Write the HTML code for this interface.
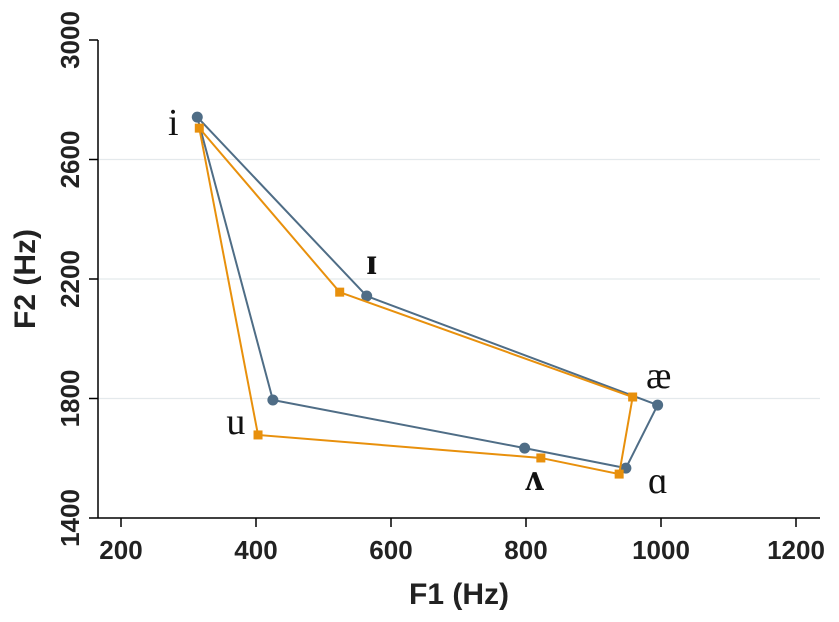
<!DOCTYPE html>
<html><head><meta charset="utf-8"><style>
body{margin:0;background:#fff;}
svg text{font-family:"Liberation Sans",sans-serif;}
</style></head><body>
<svg id="chart" width="839" height="617" viewBox="0 0 839 617"></svg>
<script>
const xTicks=[200,400,600,800,1000,1200];
const yTicks=[1400,1800,2200,2600,3000];
const vowels=["i","ɪ","æ","ɑ","ʌ","u"];
const blueF1=[313,564,995,948,798,425];
const blueF2=[2742,2143,1778,1567,1634,1795];
const orangeF1=[316,524,958,938,822,403];
const orangeF2=[2705,2156,1805,1547,1601,1678];
const labelOffsets=[[-24,18],[5,-22],[1,-17],[32,25],[10,42],[-37,34]];
const labelBold=[false,true,false,false,true,false];
const NS="http://www.w3.org/2000/svg";
const svg=document.getElementById('chart');
const X=v=>121+(v-200)*135/200;
const Y=v=>518-(v-1400)*119.5/400;
function el(t,a,p){const e=document.createElementNS(NS,t);for(const k in a)e.setAttribute(k,a[k]);(p||svg).appendChild(e);return e;}
yTicks.forEach(t=>{if(t>1400&&t<3000){const g=el('line',{x1:98,x2:820,y1:Y(t),y2:Y(t),stroke:'#e4e9ec','stroke-width':1.2});

}});
const ya=el('line',{x1:98,x2:98,y1:Y(3000),y2:518,stroke:'#000','stroke-width':1.5});


const xa=el('line',{x1:98,x2:820,y1:518,y2:518,stroke:'#000','stroke-width':1.5});


xTicks.forEach(t=>{
 el('line',{x1:X(t),x2:X(t),y1:518,y2:527,stroke:'#000','stroke-width':1.5});
 const tx=el('text',{x:X(t),y:559,'font-size':26,'font-weight':'bold','text-anchor':'middle',fill:'#222'});tx.textContent=t;
 
 
});
yTicks.forEach(t=>{
 el('line',{x1:89,x2:98,y1:Y(t),y2:Y(t),stroke:'#000','stroke-width':1.5});
 const tx=el('text',{x:0,y:0,'font-size':26,'font-weight':'bold','text-anchor':'middle',fill:'#222',transform:`translate(79,${Y(t)}) rotate(-90)`});tx.textContent=t;
 
 
});
const xt=el('text',{x:459,y:604,'font-size':30,'font-weight':'bold','text-anchor':'middle',fill:'#222'});xt.textContent='F1 (Hz)';


const yt=el('text',{x:0,y:0,'font-size':30,'font-weight':'bold','text-anchor':'middle',fill:'#222',transform:'translate(35,279) rotate(-90)'});yt.textContent='F2 (Hz)';


function series(f1,f2,color,name,square){
 const pts=f1.map((v,i)=>X(v)+','+Y(f2[i]));pts.push(pts[0]);
 const pl=el('polyline',{points:pts.join(' '),fill:'none',stroke:color,'stroke-width':2});
 
 
 f1.forEach((v,i)=>{
  const m=square?el('rect',{x:X(v)-4.5,y:Y(f2[i])-4.5,width:9,height:9,fill:color}):el('circle',{cx:X(v),cy:Y(f2[i]),r:5.5,fill:color});
  
  
 });
}
series(blueF1,blueF2,'#4f6d86','blue-series',false);
series(orangeF1,orangeF2,'#e8900c','orange-series',true);
vowels.forEach((v,i)=>{
 const t=el('text',{x:X(blueF1[i])+labelOffsets[i][0],y:Y(blueF2[i])+labelOffsets[i][1],'font-size':38,'font-weight':labelBold[i]?'bold':'normal','text-anchor':'middle',fill:'#111',style:'font-family:"Liberation Serif",serif'});
 t.textContent=v;
 
 
});
</script>
</body></html>
